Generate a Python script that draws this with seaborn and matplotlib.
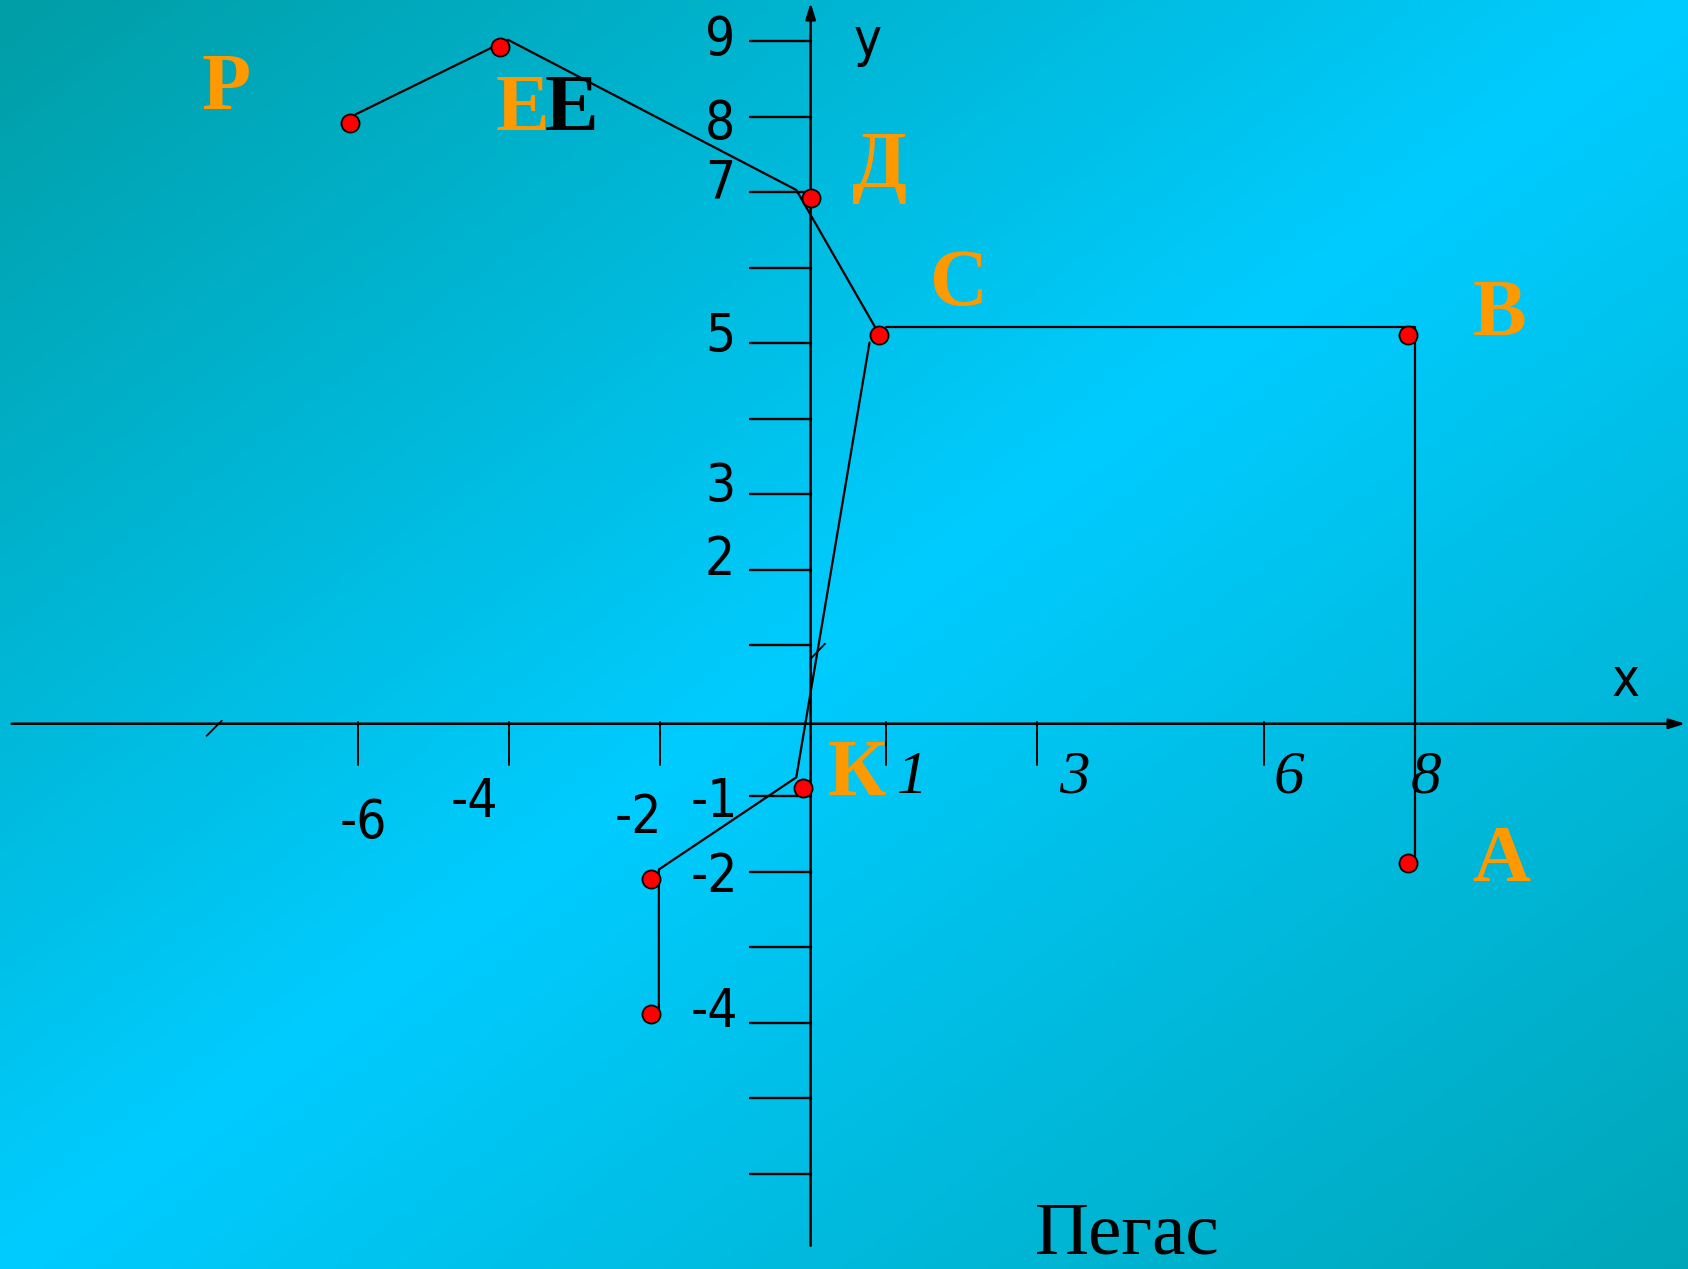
import numpy as np
import pandas as pd
import matplotlib
matplotlib.use("Agg")
import matplotlib.pyplot as plt
import seaborn as sns
from matplotlib.colors import LinearSegmentedColormap

sns.set_theme(style="white")

# Точки созвездия (красные кружки)
pt_x = [-6.10, -4.11, 0.0, 0.90, 7.91, 7.91, -0.10, -2.11, -2.11]
pt_y = [7.92, 8.93, 6.92, 5.11, 5.11, -1.89, -0.89, -2.09, -3.88]

# Ломаные линии
upper_x = [-6.03, -4.01, -0.19, 0.93]
upper_y = [8.03, 9.02, 7.03, 5.08]
rect_x = [1.0, 8.0, 8.0]
rect_y = [5.22, 5.22, -1.79]
lower_x = [0.78, -0.19, -2.01, -2.01]
lower_y = [5.01, -0.75, -1.97, -3.88]

# Деления осей
yticks = [9, 8, 7, 6, 5, 4, 3, 2, 1, -1, -2, -3, -4, -5, -6]
xticks = [-6, -4, -2, 1, 3, 6, 8]
ylab_text = ["9", "8", "7", "5", "3", "2", "-1", "-2", "-4"]
ylab_pos = [(-1.20, 9.02), (-1.20, 7.91), (-1.20, 7.12), (-1.20, 5.08), (-1.20, 3.10),
            (-1.20, 2.13), (-1.28, -1.08), (-1.28, -2.07), (-1.28, -3.86)]
xneg_text = ["-6", "-4", "-2"]
xneg_pos = [(-5.93, -1.36), (-4.46, -1.08), (-2.28, -1.29)]
xpos_text = ["1", "3", "6", "8"]
xpos_pos = [(1.35, -0.76), (3.49, -0.76), (6.34, -0.76), (8.15, -0.76)]

# Буквы звёзд
star_text = ["Р", "Е", "Д", "С", "В", "А", "К"]
star_pos = [(-7.74, 8.36), (-3.82, 8.08), (0.91, 7.33), (1.95, 5.77),
            (9.12, 5.37), (9.15, -1.86), (0.61, -0.72)]

fig = plt.figure(figsize=(16.88, 12.69), dpi=100)
ax = fig.add_axes([0, 0, 1, 1])
xmin, xmax, ymin, ymax = -10.737, 11.621, -7.262, 9.546

# фон: диагональный градиент (тёмный в левом верхнем и правом нижнем углах)
gx, gy = np.meshgrid(np.linspace(0, 1, 400), np.linspace(0, 1, 300))
t = (gx + gy) / 2
cmap = LinearSegmentedColormap.from_list(
    "bg", [(0, "#009ea6"), (0.5, "#00ccff"), (1, "#00a6b8")])
ax.imshow(t, cmap=cmap, extent=[xmin, xmax, ymin, ymax], aspect="auto",
          origin="upper", zorder=0, vmin=0, vmax=1)
ax.set_xlim(xmin, xmax)
ax.set_ylim(ymin, ymax)
ax.axis("off")

# оси со стрелками
arr = dict(arrowstyle="-|>,head_length=0.8,head_width=0.25", color="black", lw=1.8)
ax.annotate("", xy=(xmax, -0.04), xytext=(-10.62, -0.04), arrowprops=arr, zorder=2)
ax.annotate("", xy=(0, ymax), xytext=(0, -6.99), arrowprops=arr, zorder=2)
for yt in yticks:
    ax.plot([-0.80, 0], [yt, yt], color="black", lw=1.7, zorder=2)
for xt in xticks:
    ax.plot([xt, xt], [-0.02, -0.58], color="black", lw=1.4, zorder=2)
ax.plot([-8.0, -7.8], [-0.2, 0.0], color="black", lw=1.3)
ax.plot([0.0, 0.19], [0.82, 1.02], color="black", lw=1.3)

for xs, ys in [(upper_x, upper_y), (rect_x, rect_y), (lower_x, lower_y)]:
    df = pd.DataFrame({"x": xs, "y": ys})
    sns.lineplot(data=df, x="x", y="y", sort=False, estimator=None,
                 color="black", lw=1.6, ax=ax, zorder=3)

sns.scatterplot(x=pt_x, y=pt_y, s=170, color="#ff0000", edgecolor="black",
                linewidth=1.3, ax=ax, zorder=4)

num_kw = dict(fontsize=38, family="DejaVu Sans", fontstretch="condensed",
              ha="center", va="center", color="black")
for s, (x, y) in zip(ylab_text + xneg_text, ylab_pos + xneg_pos):
    ax.text(x, y, s, **num_kw)
for s, (x, y) in zip(xpos_text, xpos_pos):
    ax.text(x, y, s, fontsize=44, family="Liberation Serif", style="italic",
            ha="center", va="center", color="black")
ax.text(0.76, 9.0, "y", **num_kw)
ax.text(10.79, 0.52, "x", **num_kw)

for s, (x, y) in zip(star_text, star_pos):
    ax.text(x, y, s, fontsize=58, family="Liberation Serif", weight="bold",
            ha="center", va="center", color="#ff9900")
ax.text(-3.17, 8.08, "Е", fontsize=58, family="Liberation Serif", weight="bold",
        ha="center", va="center", color="black")

ax.text(4.19, -6.82, "Пегас", fontsize=54, family="Liberation Serif",
        ha="center", va="center", color="black")

fig.savefig("out.png", dpi=100)
